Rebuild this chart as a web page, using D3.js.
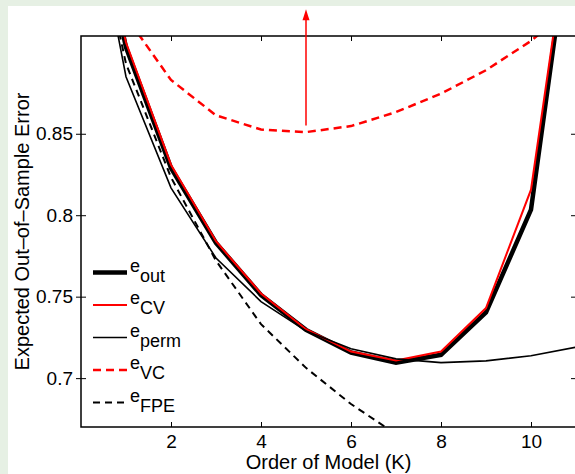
<!DOCTYPE html>
<html>
<head>
<meta charset="utf-8">
<script src="https://cdn.jsdelivr.net/npm/d3@7"></script>
<style>
html,body{margin:0;padding:0;background:#e6f0e4;}
svg{display:block;}
text{font-family:"Liberation Sans",Arial,Helvetica,sans-serif;fill:#000;}
</style>
</head>
<body>
<script>
// ---- data ----
const K = [0,1,2,3,4,5,6,7,8,9,10,11];
const eOut  = [1.03, 0.903, 0.829, 0.783, 0.751, 0.7296, 0.7157, 0.7095, 0.7143, 0.7403, 0.8034, 1.004];
const eCV   = [1.03, 0.906, 0.831, 0.784, 0.752, 0.730, 0.7163, 0.7108, 0.7163, 0.743, 0.8157, 1.007];
const ePerm = [1.028, 0.885, 0.8168, 0.7737, 0.747, 0.729, 0.718, 0.7118, 0.7095, 0.7106, 0.7137, 0.719];
const eVC   = [1.0, 0.922, 0.883, 0.8613, 0.8526, 0.851, 0.8547, 0.8633, 0.8746, 0.889, 0.907, 0.93];
const KFpe  = [0,1,2,3,4,5,6,7];
const eFPE  = [1.02, 0.893, 0.8232, 0.7721, 0.7331, 0.7063, 0.6841, 0.6656];
const xTicks = [2,4,6,8,10];
const xTickLabels = ["2","4","6","8","10"];
const yTicks = [0.7,0.75,0.8,0.85];
const yTickLabels = ["0.7","0.75","0.8","0.85"];
const arrowK = 5, arrowFrom = 0.855, arrowTo = 0.9264;
const legendNames = ["out","CV","perm","VC","FPE"];

const W = 575, H = 474;
const svg = d3.select("body").append("svg").attr("width", W).attr("height", H);
svg.append("rect").attr("x",0).attr("y",0).attr("width",W).attr("height",H).attr("fill","#e6f0e4");
svg.append("rect").attr("x",8).attr("y",6).attr("width",W-8).attr("height",H-6).attr("fill","#ffffff");

const L = 81, R = 576, T = 36, B = 427;
const x = d3.scaleLinear().domain([0,11]).range([L,R]);
const y = d3.scaleLinear().domain([0.67,0.91]).range([B,T]);

svg.append("defs").append("clipPath").attr("id","plotclip")
  .append("rect").attr("x",L).attr("y",T).attr("width",R-L).attr("height",B-T);

const styles = [
  {data:eOut, ks:K, color:"#000", w:4.5, dash:null},
  {data:eCV, ks:K, color:"#ff0000", w:2, dash:null},
  {data:ePerm, ks:K, color:"#000", w:1.6, dash:null},
  {data:eVC, ks:K, color:"#ff0000", w:2.5, dash:"8,5"},
  {data:eFPE, ks:KFpe, color:"#000", w:2, dash:"7,5"}
];

const g = svg.append("g").attr("clip-path","url(#plotclip)");
const line = d3.line().x(d=>x(d[0])).y(d=>y(d[1]));
styles.forEach(s=>{
  const pts = s.ks.map((k,i)=>[k, s.data[i]]);
  g.append("path").attr("d", line(pts)).attr("fill","none")
   .attr("stroke", s.color).attr("stroke-width", s.w)
   .attr("stroke-linejoin","miter")
   .attr("stroke-dasharray", s.dash);
});

// axes
const axG = svg.append("g");
function styleAxis(sel){
  sel.select(".domain").remove();
  sel.selectAll(".tick line").attr("stroke","#000").attr("stroke-width",1);
  sel.selectAll(".tick text").style("font-size","19px").style("font-family","Liberation Sans, Arial, sans-serif");
}
const xb = axG.append("g").attr("transform",`translate(0,${B})`)
  .call(d3.axisBottom(x).tickValues(xTicks).tickSize(-5).tickPadding(8).tickFormat((d,i)=>xTickLabels[i]));
styleAxis(xb);
const xt = axG.append("g").attr("transform",`translate(0,${T})`)
  .call(d3.axisTop(x).tickValues(xTicks).tickSize(-5).tickFormat(""));
styleAxis(xt);
const yl = axG.append("g").attr("transform",`translate(${L},0)`)
  .call(d3.axisLeft(y).tickValues(yTicks).tickSize(5).tickPadding(3).tickFormat((d,i)=>yTickLabels[i]));
styleAxis(yl);
const yl2 = axG.append("g").attr("transform",`translate(${L},0)`)
  .call(d3.axisRight(y).tickValues(yTicks).tickSize(5).tickFormat(""));
styleAxis(yl2);
const yr = axG.append("g").attr("transform",`translate(${R},0)`)
  .call(d3.axisRight(y).tickValues(yTicks).tickSize(-5).tickFormat(""));
styleAxis(yr);

// box
svg.append("rect").attr("x",L).attr("y",T).attr("width",R-L).attr("height",B-T)
  .attr("fill","none").attr("stroke","#000").attr("stroke-width",1.5);

// arrow
svg.append("line").attr("x1",x(arrowK)).attr("x2",x(arrowK))
  .attr("y1",y(arrowFrom)).attr("y2",y(arrowTo)+9)
  .attr("stroke","#ff0000").attr("stroke-width",1.5);
const ax0 = x(arrowK), ay0 = y(arrowTo);
svg.append("path").attr("d",`M${ax0},${ay0} L${ax0-3.5},${ay0+11} L${ax0+3.5},${ay0+11} Z`).attr("fill","#ff0000");

// legend
const lg = svg.append("g");
styles.forEach((s,i)=>{
  const ly = 272.5 + i*32.5;
  lg.append("line").attr("x1",93).attr("x2",127).attr("y1",ly).attr("y2",ly)
    .attr("stroke",s.color).attr("stroke-width",s.w).attr("stroke-dasharray",s.dash);
  const t = lg.append("text").attr("x",130).attr("y",ly-1).style("font-size","18px");
  t.append("tspan").text("e");
  t.append("tspan").attr("dy",10).text(legendNames[i]);
});

// axis labels
svg.append("text").attr("x",(L+R)/2).attr("y",469).attr("text-anchor","middle")
  .style("font-size","20px").text("Order of Model (K)");
svg.append("text").attr("transform",`translate(29,${(T+B)/2}) rotate(-90)`).attr("text-anchor","middle")
  .style("font-size","20px").text("Expected Out–of–Sample Error");
</script>
</body>
</html>
